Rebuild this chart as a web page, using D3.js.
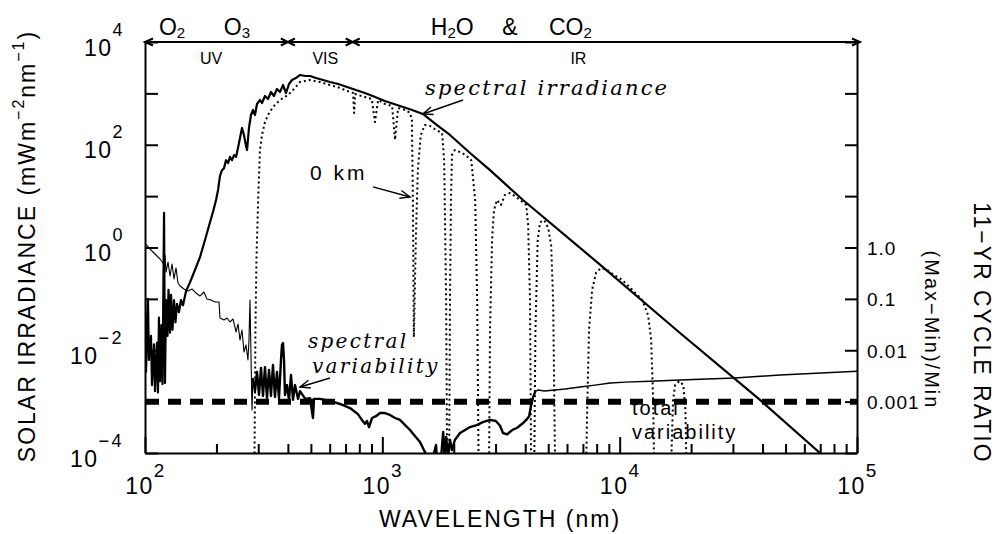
<!DOCTYPE html>
<html>
<head>
<meta charset="utf-8">
<script src="https://cdn.jsdelivr.net/npm/d3@7"></script>
<style>
  html, body { margin: 0; padding: 0; background: #fff; }
  svg { display: block; font-family: "Liberation Sans", Arial, sans-serif; }
</style>
</head>
<body>
<svg id="chart" width="998" height="534"></svg>
<script>
// ---- Solar spectrum at the top of the atmosphere [wavelength nm, mW m^-2 nm^-1]
const toaIrradiance = [
  [100,0.095],[101,0.0038],[102.9,0.10],[103.9,0.0065],[106,0.019],[107,0.0021],[109.1,0.013],
  [110.2,0.0016],[112.3,0.014],[113.4,0.0015],[114.5,0.043],[115.7,0.0025],[117.3,0.031],
  [118.5,0.0022],[120.3,4.7],[121.4,0.0023],[122.6,0.095],[124.4,0.019],[125.6,0.15],
  [127.5,0.022],[128.7,0.12],[130.6,0.025],[132.5,0.095],[134.4,0.035],[136.4,0.080],
  [139,0.055],[141.8,0.095],[144.6,0.075],[148.8,0.14],[154.7,0.21],[162.4,0.365],
  [170.5,0.65],[179,1.4],[187.9,3.1],[193.4,4.9],[199.2,8.4],[203.2,13.2],[207,24.7],
  [211,32],[215.2,35],[219.4,50],[223.8,44],[228.1,58],[232.6,50],[237.2,63],[241.9,58],
  [246.6,87],[251.3,135],[256.3,212],[261.2,155],[266.4,95],[269.2,79],[274.2,212],
  [279.6,379],[285.1,475],[290.7,379],[296.4,621],[305.1,743],[311.1,650],[320.3,890],
  [329.8,776],[339.5,1064],[349.5,890],[359.8,1217],[370.5,1064],[381.5,1455],[392.7,1017],
  [404.3,1520],[416.3,1820],[432.3,1990],[449.9,2280],[473.6,2180],[495.7,2180],[525.2,1990],
  [562.6,1820],[601.9,1663],[651.5,1520],[710.5,1330],[773.9,1163],[844,1017],[910.5,890],
  [1025,711],[1187,568],[1335,475],[1482,397],[1700,242],[1928,155],[2341,69],[2843,32],
  [3914,8.4],[8027,0.52],[17960,0.0217],[39020,0.00108],[69850,1.0e-4],[100000,2.3e-5]
];

// ---- Solar spectrum at the ground (0 km); values below 1e-4 lie off the axis
const surfaceIrradiance = [
  [289,5e-5],[292,0.025],[294.8,0.57],[299.7,8.4],[305.1,79],[311.1,155],[320.3,277],
  [329.8,379],[346.1,543],[363.3,680],[381.5,813],[400.5,929],[420.4,1163],[449.9,1663],
  [495.7,1820],[546.3,1663],[601.9,1455],[663.3,1274],[730.9,1064],[753,1017],[760.5,415],
  [768,972],[844,849],[903,776],[931,277],[960,743],[1025,621],[1100,568],[1131,124],
  [1165,519],[1248,475],[1308,415],[1332,303],[1345,8.4],[1358,0.018],[1384,1.4],[1411,32],
  [1452,155],[1509,242],[1588,232],[1684,194],[1786,169],[1822,50],[1857,0.095],[1875,5e-5],
  [1911,5e-5],[1928,0.095],[1946,8.4],[1965,63],[2021,79],[2125,72],[2244,63],[2370,50],
  [2461,8.4],[2510,0.095],[2545,5e-5],[2815,5e-5],[2843,0.025],[2899,1.4],[2955,5.4],
  [3042,8.4],[3160,6.7],[3281,10.5],[3451,11.5],[3624,10],[3803,8.4],[4038,6.7],[4116,2.7],
  [4190,0.095],[4235,5e-5],[4365,5e-5],[4417,0.025],[4515,1.4],[4617,3.1],[4811,3.4],
  [4999,2.4],[5144,1.1],[5244,0.095],[5347,5e-5],[7230,5e-5],[7279,4.4e-4],[7430,0.025],
  [7655,0.15],[7963,0.33],[8368,0.40],[8867,0.365],[9490,0.29],[10260,0.233],[11300,0.15],
  [12450,0.095],[13180,0.048],[13570,0.016],[13840,0.0011],[13970,5e-5],[16460,5e-5],
  [16790,0.0011],[17130,0.0021],[17830,0.0025],[18550,0.0021],[18920,6.9e-4],[19120,5e-5],
  [100000,5e-5]
];

// ---- 11-year cycle ratio (Max-Min)/Min, split by instrument range
const uvVariability = [
  [100,1.22],[105,0.935],[110.2,0.747],[115.7,0.597],[119.1,0.499],[121.4,0.714],[122.6,0.333],
  [125,0.522],[127.5,0.279],[130,0.477],[132.5,0.244],[135.1,0.40],[137.7,0.204],[140.5,0.178],
  [146,0.156],[151.7,0.142],[157.7,0.156],[164,0.130],[170.5,0.114],[177.2,0.136],[182.4,0.0995],
  [189.7,0.0951],[197.2,0.0869],[205,0.0869],[207,0.0425],[215.2,0.0388],[221.6,0.0425],
  [228.1,0.0355],[234.8,0.0406],[241.9,0.0227],[246.6,0.0324],[251.3,0.0158],[256.3,0.0248],
  [261.2,0.00924],[266.4,0.0127],[271.5,0.00646],[274.2,0.0158],[276.9,0.0951],[279.6,0.0081],
  [282.4,0.00069],[285.1,0.00288]
];
const visNirVariability = [
  [285.1,0.00288],[290.7,0.0016],[296.4,0.0038],[302.2,0.00135],[308.1,0.0045],[314.2,0.00129],
  [320.3,0.0047],[326.6,0.00117],[333,0.00413],[339.5,0.00129],[346.1,0.00516],[352.9,0.00123],
  [359.8,0.0038],[366.9,0.00117],[374.1,0.00646],[377.7,0.0127],[381.5,0.0138],[385.2,0.00646],
  [388.9,0.00135],[396.5,0.0021],[404.3,0.00108],[412.2,0.0033],[420.4,0.00108],[428.6,0.0021],
  [441.4,0.00113],[449.9,0.0016],[473.6,0.00113],[495.7,0.00117],[510.2,0.00048],[515.2,0.00113],
  [546.3,0.00113],[601.9,0.00103],[663.3,0.0009],[730.9,0.00075],[788.9,0.00057],[820,0.00044],
  [844,0.00037],[861,0.00042],[879,0.00032],[905,0.00048],[940,0.00052],[977.7,0.0006],
  [1025,0.0006],[1077,0.00055],[1131,0.00048],[1187,0.00044],[1248,0.00035],[1308,0.00028],
  [1372,0.000214],[1441,0.000164],[1497,0.000114],[1541,9e-5],[1618,7e-5],[1684,0.000143],
  [1700,7e-5],[1768,8e-5],[1804,0.000257],[1830,8e-5],[1857,0.000205],[1893,9e-5],
  [1928,0.000179],[1965,0.000114],[2021,0.000179],[2125,0.000245],[2231,0.00028],[2341,0.00032],
  [2500,0.00035],[2651,0.0004],[2843,0.00044],[3009,0.00042],[3132,0.00034],[3225,0.000245],
  [3358,0.00023],[3525,0.00028],[3701,0.00031],[3886,0.00037],[4038,0.00044],[4155,0.00052],
  [4235,0.00086],[4320,0.00123],[4417,0.0016]
];
const irVariability = [
  [4417,0.0016],[4536,0.00168],[4809,0.00161],[5347,0.00168],[5886,0.00176],[6807,0.00193],
  [7873,0.0021],[9131,0.0023],[10580,0.0024],[13440,0.0025],[17960,0.00264],[30530,0.00288],
  [47380,0.0033],[100000,0.0039]
];
const totalVariability = [[100,0.001],[100000,0.001]];

// ---- Axis ticks and labels
const xMajor = [1e2, 1e3, 1e4, 1e5];
const xMinor = [1e2, 1e3, 1e4].flatMap(d => [2,3,4,5,6,7,8,9].map(k => k * d));
const yDecades = d3.range(-4, 5).map(e => Math.pow(10, e));
const yLabelExponents = [-4, -2, 0, 2, 4];
const ratioTickLabels = [[1, "1.0"], [0.1, "0.1"], [0.01, "0.01"], [0.001, "0.001"]];

// ---- Spectral bands along the top bar
const bandEdges = [100, 400, 750, 100000];
const bandNames = [["UV", 190], ["VIS", 575], ["IR", 6700]];
const absorbers = [
  { at: 130,  parts: [["O", 0], ["2", 1]] },
  { at: 244,  parts: [["O", 0], ["3", 1]] },
  { at: 1970, parts: [["H", 0], ["2", 1], ["O", 0]] },
  { at: 3450, parts: [["&", 0]] },
  { at: 6200, parts: [["CO", 0], ["2", 1]] }
];

// ================= drawing =================
const svg = d3.select("#chart");
const plot = { left: 145, right: 857, top: 42, bottom: 453 };

const x = d3.scaleLog().domain([1e2, 1e5]).range([plot.left, plot.right]);
const y = d3.scaleLog().domain([1e-4, 1e4]).range([plot.bottom, plot.top]);
const yRatio = d3.scaleLog().domain([1e-4, 1e4]).range([plot.bottom, plot.top]);

svg.append("defs").append("clipPath").attr("id", "plotClip")
  .append("rect")
  .attr("x", plot.left).attr("y", plot.top)
  .attr("width", plot.right - plot.left).attr("height", plot.bottom - plot.top);

const irrLine = d3.line().x(d => x(d[0])).y(d => y(d[1]));
const ratioLine = d3.line().x(d => x(d[0])).y(d => yRatio(d[1]));

const curves = svg.append("g").attr("clip-path", "url(#plotClip)")
  .attr("fill", "none").attr("stroke", "#000")
  .attr("stroke-linejoin", "round");

// ground-level spectrum (dotted)
curves.append("path").datum(surfaceIrradiance)
  .attr("d", irrLine).attr("stroke-width", 2).attr("stroke-dasharray", "2,3");

// top-of-atmosphere spectrum
curves.append("path").datum(toaIrradiance)
  .attr("d", irrLine).attr("stroke-width", 2.2);

// cycle variability
curves.append("path").datum(uvVariability).attr("d", ratioLine).attr("stroke-width", 1.1);
curves.append("path").datum(visNirVariability).attr("d", ratioLine).attr("stroke-width", 2.4);
curves.append("path").datum(irVariability).attr("d", ratioLine).attr("stroke-width", 1.4);

// ---- annotations
function arrowHead(g, tx, ty, dx, dy, len, half) {
  const n = Math.hypot(dx, dy); dx /= n; dy /= n;
  const bx = tx - dx * len, by = ty - dy * len, px = -dy, py = dx;
  g.append("path").attr("d",
    `M${bx + px * half},${by + py * half}L${tx},${ty}L${bx - px * half},${by - py * half}`);
}
function pointer(tail, tip) {
  const g = svg.append("g").attr("fill", "none").attr("stroke", "#000").attr("stroke-width", 1.4);
  const x1 = x(tail[0]), y1 = y(tail[1]), x2 = x(tip[0]), y2 = y(tip[1]);
  g.append("line").attr("x1", x1).attr("y1", y1).attr("x2", x2).attr("y2", y2);
  arrowHead(g, x2, y2, x2 - x1, y2 - y1, 10, 4);
}
const serifItalic = { family: "'DejaVu Serif', serif", style: "italic" };
const sans = { family: "'Liberation Sans', Arial, sans-serif" };
function note(txt, at, opts) {
  return svg.append("text").attr("x", x(at[0])).attr("y", y(at[1]))
    .attr("font-family", opts.family).attr("font-size", opts.size)
    .attr("font-style", opts.style || null)
    .attr("letter-spacing", opts.spacing || null).text(txt);
}
note("spectral irradiance", [1512, 929], { ...serifItalic, size: 21, spacing: 2.2 });
pointer([2188, 743], [1482, 397]);

note("0 km", [496, 20.6], { ...sans, size: 21, spacing: 3 });
pointer([913, 15.1], [1308, 9.6]);

note("spectral", [486, 0.0111], { ...serifItalic, size: 20, spacing: 2.3 });
note("variability", [505, 0.0036], { ...serifItalic, size: 20, spacing: 2.3 });
pointer([602, 0.00288], [450, 0.00193]);

note("total", [11270, 5.5e-4], { ...sans, size: 20, spacing: 2 });
note("variability", [11270, 1.9e-4], { ...sans, size: 20, spacing: 2 });

// total variability level (thick dashes), drawn over the notes
curves.append("path").datum(totalVariability)
  .attr("d", ratioLine).attr("stroke-width", 6).attr("stroke-dasharray", "13,9")
  .attr("stroke-dashoffset", -1);

// ---- axes
function styleAxis(g) {
  g.attr("font-family", null).attr("font-size", null);
  g.selectAll(".domain").attr("stroke", "#000").attr("stroke-width", 2);
  g.selectAll(".tick line").attr("stroke", "#000").attr("stroke-width", 2);
}
function powerLabel(t, exp, supDy, supSize) {
  t.text(null);
  t.append("tspan").text("10");
  t.append("tspan").attr("font-size", supSize).attr("dy", supDy)
    .attr("letter-spacing", exp < 0 ? 2.5 : null)
    .text(exp < 0 ? "\u2212" + (-exp) : String(exp));
}

// bottom
const gxMinor = svg.append("g").attr("transform", `translate(0,${plot.bottom})`)
  .call(d3.axisBottom(x).tickValues(xMinor).tickSizeInner(-9).tickSizeOuter(0).tickFormat(() => ""));
styleAxis(gxMinor);
gxMinor.select(".domain").remove();

const gx = svg.append("g").attr("transform", `translate(0,${plot.bottom})`)
  .call(d3.axisBottom(x).tickValues(xMajor).tickSizeInner(-16).tickSizeOuter(0));
styleAxis(gx);
gx.selectAll(".tick text").each(function (d) {
  const t = d3.select(this).attr("y", 41).attr("dy", null)
    .attr("font-size", 23).attr("letter-spacing", 1.5);
  powerLabel(t, Math.round(Math.log10(d)), -17, 19);
});

// left
const gy = svg.append("g").attr("transform", `translate(${plot.left},0)`)
  .call(d3.axisLeft(y).tickValues(yDecades).tickSizeInner(-13).tickSizeOuter(0));
styleAxis(gy);
gy.selectAll(".tick text").each(function (d) {
  const e = Math.round(Math.log10(d));
  const t = d3.select(this);
  if (!yLabelExponents.includes(e)) { t.remove(); return; }
  t.attr("x", -21).attr("y", 13).attr("dy", null)
    .attr("font-size", 23).attr("letter-spacing", 1.5);
  powerLabel(t, e, -20, 18);
});

// right
const ratioLabelOf = new Map(ratioTickLabels.map(([v, s]) => [Math.round(Math.log10(v)), s]));
const gr = svg.append("g").attr("transform", `translate(${plot.right},0)`)
  .call(d3.axisRight(yRatio).tickValues(yDecades).tickSizeInner(-12).tickSizeOuter(0)
    .tickFormat(d => ratioLabelOf.get(Math.round(Math.log10(d))) || ""));
styleAxis(gr);
gr.selectAll(".tick text").attr("x", 10).attr("dy", "0.36em")
  .attr("font-size", 19).attr("letter-spacing", 1);

// top bar with spectral band arrows
const bar = svg.append("g").attr("fill", "none").attr("stroke", "#000").attr("stroke-width", 2);
bar.append("line").attr("x1", x(bandEdges[0])).attr("x2", x(bandEdges[3]) + 3)
  .attr("y1", plot.top).attr("y2", plot.top);
arrowHead(bar, x(bandEdges[0]), plot.top, -1, 0, 8, 3.5);
arrowHead(bar, x(bandEdges[3]) + 3, plot.top, 1, 0, 8, 3.5);
[bandEdges[1], bandEdges[2]].forEach(w => {
  arrowHead(bar, x(w), plot.top, 1, 0, 7, 3.5);
  arrowHead(bar, x(w), plot.top, -1, 0, 7, 3.5);
});

svg.append("g").selectAll("text").data(bandNames).join("text")
  .attr("x", d => x(d[1])).attr("y", 64).attr("text-anchor", "middle")
  .attr("font-size", 16).text(d => d[0]);

const gasText = svg.append("g").selectAll("text").data(absorbers).join("text")
  .attr("x", d => x(d.at)).attr("y", 35).attr("text-anchor", "middle").attr("font-size", 23);
gasText.each(function (d) {
  const t = d3.select(this);
  let shifted = 0;
  d.parts.forEach(([s, sub]) => {
    const dy = sub ? 3 - shifted : -shifted;
    shifted += dy;
    t.append("tspan").attr("font-size", sub ? 15 : 23).attr("dy", dy).text(s);
  });
});

// ---- axis titles
svg.append("text").attr("x", 500).attr("y", 527).attr("text-anchor", "middle")
  .attr("font-size", 23).attr("letter-spacing", 2).text("WAVELENGTH (nm)");

const leftTitle = svg.append("text").attr("transform", "translate(35,246) rotate(-90)")
  .attr("text-anchor", "middle").attr("font-size", 23).attr("letter-spacing", 2);
leftTitle.append("tspan").text("SOLAR IRRADIANCE (mWm");
leftTitle.append("tspan").attr("font-size", 16).attr("dy", -11).text("\u22122");
leftTitle.append("tspan").attr("dy", 11).text("nm");
leftTitle.append("tspan").attr("font-size", 16).attr("dy", -11).text("\u22121");
leftTitle.append("tspan").attr("dy", 11).text(")");

svg.append("text").attr("transform", "translate(974,333) rotate(90)")
  .attr("text-anchor", "middle").attr("font-size", 23).attr("letter-spacing", 2)
  .text("11\u2212YR CYCLE RATIO");
svg.append("text").attr("transform", "translate(925,330) rotate(90)")
  .attr("text-anchor", "middle").attr("font-size", 20).attr("letter-spacing", 2)
  .text("(Max\u2212Min)/Min");
</script>
</body>
</html>
